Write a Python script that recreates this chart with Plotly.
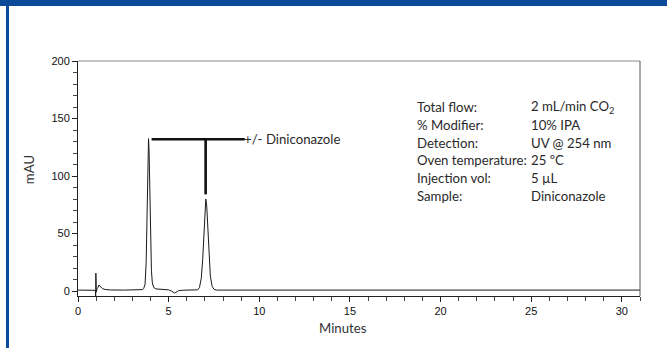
import plotly.graph_objects as go

# Chromatogram trace (minutes, mAU)
time_min = [0.0, 0.5, 0.96, 0.975, 0.985, 0.995, 1.01, 1.05, 1.1, 1.15, 1.2, 1.25, 1.35, 1.5, 1.8, 2.5, 3.0, 3.4,
            3.55, 3.62, 3.7, 3.76, 3.8, 3.84, 3.87, 3.89, 3.92, 3.96, 4.0, 4.05, 4.1, 4.18, 4.3, 4.6, 5.0,
            5.15, 5.25, 5.32, 5.4, 5.55, 5.8, 6.3, 6.6, 6.7, 6.8, 6.88, 6.95, 7.0, 7.05, 7.1, 7.16, 7.23,
            7.3, 7.4, 7.5, 7.65, 8.5, 12.0, 18.0, 24.0, 31.0]
absorb_mau = [0.8, 0.8, 0.6, -6.0, 15.5, 5.0, -1.0, 2.0, 3.0, 5.2, 4.2, 3.0, 2.0, 1.3, 0.9, 0.8, 0.8, 0.8,
              1.2, 2.0, 6.0, 25.0, 55.0, 95.0, 125.0, 132.5, 122.0, 85.0, 45.0, 18.0, 7.0, 3.0, 1.8, 1.5, 1.0,
              0.0, -1.2, -1.8, -1.2, 0.3, 0.7, 0.8, 1.0, 3.0, 11.0, 28.0, 52.0, 71.0, 80.0, 74.0, 55.0, 30.0,
              13.0, 4.0, 1.5, 0.8, 0.8, 0.8, 0.8, 0.8, 0.8]

# Peak label bracket
bracket_x = [4.06, 9.2]
bracket_y = 132.0
stem_x = 7.04
stem_bottom = 84.0
peak_label = "+/- Diniconazole"

# Conditions table
cond_names = ["Total flow:", "% Modifier:", "Detection:", "Oven temperature:", "Injection vol:", "Sample:"]
cond_values = ["2 mL/min CO<sub>2</sub>", "10% IPA", "UV @ 254 nm", "25 ºC", "5 µL", "Diniconazole"]
cond_y = [160.0, 144.5, 129.0, 113.5, 98.0, 82.5]

x_ticks = [0, 5, 10, 15, 20, 25, 30]
y_ticks = [0, 50, 100, 150, 200]

TXT_FONT = "Lato, Liberation Sans, Arial, sans-serif"
TICK_FONT = "Liberation Sans, Arial, sans-serif"
TXT_SIZE = 13.2
BLUE = "#0b4a99"

fig = go.Figure()
fig.add_trace(go.Scatter(x=time_min, y=absorb_mau, mode="lines",
                         line=dict(color="#1a1a1a", width=1), showlegend=False, hoverinfo="skip"))
fig.add_trace(go.Scatter(x=bracket_x, y=[bracket_y, bracket_y], mode="lines",
                         line=dict(color="#111", width=2.6), showlegend=False, hoverinfo="skip"))
fig.add_trace(go.Scatter(x=[stem_x, stem_x], y=[bracket_y, stem_bottom], mode="lines",
                         line=dict(color="#111", width=2.6), showlegend=False, hoverinfo="skip"))

fig.add_annotation(x=bracket_x[1], y=bracket_y, text=peak_label, showarrow=False,
                   xanchor="left", yanchor="middle", xshift=-3,
                   font=dict(family=TXT_FONT, size=TXT_SIZE, color="#2a2a2a"))

for name, val, yy in zip(cond_names, cond_values, cond_y):
    fig.add_annotation(x=18.7, y=yy, text=name, showarrow=False, xanchor="left", yanchor="middle",
                       xshift=-2, font=dict(family=TXT_FONT, size=TXT_SIZE, color="#2a2a2a"))
    fig.add_annotation(x=24.93, y=yy, text=val, showarrow=False, xanchor="left", yanchor="middle",
                       xshift=-1, font=dict(family=TXT_FONT, size=TXT_SIZE, color="#2a2a2a"))

# axis titles
fig.add_annotation(xref="paper", yref="paper", x=0.471, y=-0.136, text="Minutes", showarrow=False,
                   xanchor="center", yanchor="middle", font=dict(family=TXT_FONT, size=TXT_SIZE, color="#333"))
fig.add_annotation(xref="paper", yref="paper", x=-0.087, y=0.536, text="mAU", showarrow=False,
                   textangle=-90, xanchor="center", yanchor="middle",
                   font=dict(family=TXT_FONT, size=TXT_SIZE, color="#333"))

# frame (top/right) and page decoration
fig.add_shape(type="line", xref="paper", yref="paper", x0=0, x1=1, y0=1, y1=1,
              line=dict(color="#8a8a8a", width=1))
fig.add_shape(type="line", xref="paper", yref="paper", x0=1, x1=1, y0=0, y1=1,
              line=dict(color="#555", width=1))
fig.add_shape(type="rect", xref="paper", yref="paper", x0=-0.15, x1=1.06, y0=1.234, y1=1.3,
              line=dict(width=0), fillcolor=BLUE)
fig.add_shape(type="rect", xref="paper", yref="paper", x0=-0.1281, x1=-0.1228, y0=-0.23, y1=1.3,
              line=dict(width=0), fillcolor=BLUE)

fig.update_xaxes(range=[0, 31.0], tickvals=x_ticks, ticks="outside", ticklen=5, tickcolor="#222",
                 showline=True, linecolor="#222", linewidth=1, showgrid=False, zeroline=False,
                 tickfont=dict(family=TICK_FONT, size=11, color="#111"),
                 minor=dict(dtick=1, ticks="outside", ticklen=4, tickcolor="#444"))
fig.update_yaxes(range=[-4.35, 200], tickvals=y_ticks, ticks="outside", ticklen=5, tickcolor="#222",
                 showline=True, linecolor="#222", linewidth=1, showgrid=False, zeroline=False,
                 tickfont=dict(family=TICK_FONT, size=11, color="#111"),
                 minor=dict(dtick=10, ticks="outside", ticklen=4, tickcolor="#444"))

fig.update_layout(width=667, height=348, margin=dict(l=78, r=27, t=61, b=52),
                  paper_bgcolor="white", plot_bgcolor="white", showlegend=False)

fig.write_html("out.html", config={"displayModeBar": False},
               post_script="document.body.style.margin='0';document.body.style.overflow='hidden';")
